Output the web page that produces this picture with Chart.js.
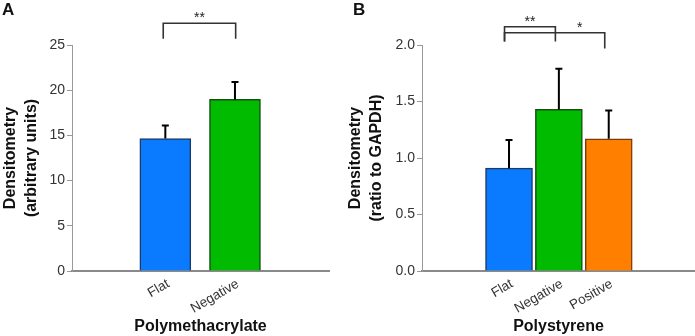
<!DOCTYPE html>
<html>
<head>
<meta charset="utf-8">
<script src="https://cdn.jsdelivr.net/npm/chart.js@4.4.1/dist/chart.umd.min.js"></script>
<style>
  body { margin: 0; background: #fff; }
  #wrap { position: relative; width: 695px; height: 336px; overflow: hidden; }
  canvas { position: absolute; top: 0; }
  .panel { position: absolute; top: 1px; font: bold 17px "Liberation Sans", Arial, sans-serif; color: #111; line-height: 17px; }
</style>
</head>
<body>
<div id="wrap">
  <canvas id="chart-a" width="345" height="336" style="left:0"></canvas>
  <canvas id="chart-b" width="350" height="336" style="left:345px"></canvas>
  <div class="panel" style="left:2px">A</div>
  <div class="panel" style="left:353px">B</div>
</div>
<script>
// Panel A - polymethacrylate
const catsA = ['Flat', 'Negative'];
const meanA = [14.66, 18.98];
const errA = [1.44, 1.92];
const ticksA = [0, 5, 10, 15, 20, 25];

// Panel B - polystyrene
const catsB = ['Flat', 'Negative', 'Positive'];
const meanB = [0.91, 1.43, 1.17];
const errB = [0.25, 0.36, 0.25];
const ticksB = [0, 0.5, 1.0, 1.5, 2.0];

const fills = ['#0a7bff', '#00bb00', '#ff8000'];
const edges = ['#1d3b63', '#145214', '#7a3b0e'];

// significance brackets (x in category units, y in value units)
const sigA = [
    { from: 0.97, to: 2.01, level: 27.4, leftEnd: 25.7, rightEnd: 25.7, label: '**' }
];
const sigB = [
    { from: 0.91, to: 1.93, level: 2.162, leftEnd: 2.03, rightEnd: 2.03, label: '**' },
    { from: 0.91, to: 2.92, level: 2.109, leftEnd: 2.03, rightEnd: 1.97, label: '*', labelAt: 2.42 }
];

const FONT = '"Liberation Sans", Arial, sans-serif';

// draws upward error bars and the significance brackets
const extrasPlugin = {
    id: 'extras',
    afterDatasetsDraw(chart, args, opts) {
        const ctx = chart.ctx;
        const xs = chart.scales.x;
        const ys = chart.scales.y;

        ctx.save();
        ctx.strokeStyle = '#000';
        ctx.lineWidth = 2;
        opts.means.forEach((m, i) => {
            const x = xs.getPixelForValue(i + 1);
            const y0 = ys.getPixelForValue(m);
            const y1 = ys.getPixelForValue(m + opts.errs[i]);
            ctx.beginPath();
            ctx.moveTo(x, y0);
            ctx.lineTo(x, y1);
            ctx.moveTo(x - 3.5, y1);
            ctx.lineTo(x + 3.5, y1);
            ctx.stroke();
        });

        ctx.strokeStyle = '#333';
        ctx.lineWidth = 1.6;
        ctx.fillStyle = '#222';
        ctx.font = '14px ' + FONT;
        ctx.textAlign = 'center';
        ctx.textBaseline = 'alphabetic';
        opts.sig.forEach(s => {
            const xl = xs.getPixelForValue(s.from);
            const xr = xs.getPixelForValue(s.to);
            const yl = ys.getPixelForValue(s.level);
            ctx.beginPath();
            ctx.moveTo(xl, ys.getPixelForValue(s.leftEnd));
            ctx.lineTo(xl, yl);
            ctx.lineTo(xr, yl);
            ctx.lineTo(xr, ys.getPixelForValue(s.rightEnd));
            ctx.stroke();
            const lx = xs.getPixelForValue(s.labelAt !== undefined ? s.labelAt : (s.from + s.to) / 2);
            ctx.fillText(s.label, lx, yl - 1);
        });
        ctx.restore();
    }
};

function makePanel(id, cats, means, errs, yTicks, yMax, yTitle, xTitle, xRange, axisWidth, barWidth, sig, rightPad, decimals) {
    const ctx = document.getElementById(id).getContext('2d');
    return new Chart(ctx, {
        type: 'bar',
        data: {
            datasets: [{
                data: means.map((m, i) => ({ x: i + 1, y: m })),
                backgroundColor: fills.slice(0, cats.length),
                borderColor: edges.slice(0, cats.length),
                borderWidth: 1.5,
                borderSkipped: 'bottom',
                barThickness: barWidth
            }]
        },
        options: {
            responsive: false,
            animation: false,
            devicePixelRatio: 1,
            layout: { padding: { top: 45, right: rightPad, left: 0, bottom: 0 } },
            plugins: {
                legend: { display: false },
                tooltip: { enabled: false },
                extras: { means: means, errs: errs, sig: sig }
            },
            scales: {
                x: {
                    type: 'linear',
                    min: xRange[0],
                    max: xRange[1],
                    offset: false,
                    grid: { display: false, drawTicks: false, offset: false },
                    border: { display: true, color: '#8a8a8a', width: 2 },
                    afterBuildTicks: (scale) => {
                        scale.ticks = cats.map((c, i) => ({ value: i + 1 }));
                    },
                    afterFit: (scale) => { scale.height = 65; },
                    ticks: {
                        autoSkip: false,
                        minRotation: 30,
                        maxRotation: 30,
                        padding: 5,
                        labelOffset: 3,
                        color: '#333',
                        font: { family: FONT, size: 13.5 },
                        callback: (v) => cats[v - 1]
                    },
                    title: {
                        display: true,
                        text: xTitle,
                        color: '#111',
                        padding: { top: 0, bottom: 0 },
                        font: { family: FONT, size: 16, weight: 'bold', lineHeight: 1.2 }
                    }
                },
                y: {
                    min: 0,
                    max: yMax,
                    grid: { drawOnChartArea: false, color: '#999', tickLength: 5 },
                    border: { display: true, color: '#999', width: 1 },
                    afterBuildTicks: (scale) => {
                        scale.ticks = yTicks.map(v => ({ value: v }));
                    },
                    afterFit: (scale) => { scale.width = axisWidth; },
                    ticks: {
                        padding: 2,
                        color: '#333',
                        font: { family: FONT, size: 14 },
                        callback: (v) => v.toFixed(decimals)
                    },
                    title: {
                        display: true,
                        text: yTitle,
                        color: '#111',
                        padding: { top: 0, bottom: 0 },
                        font: { family: FONT, size: 16, weight: 'bold', lineHeight: 1.3 }
                    }
                }
            }
        },
        plugins: [extrasPlugin]
    });
}

makePanel('chart-a', catsA, meanA, errA, ticksA, 25,
    ['Densitometry', '(arbitrary units)'], 'Polymethacrylate',
    [-0.34, 3.35], 72, 51, sigA, 16, 0);

makePanel('chart-b', catsB, meanB, errB, ticksB, 2.0,
    ['Densitometry', '(ratio to GAPDH)'], 'Polystyrene',
    [-0.745, 4.73], 77, 47, sigB, 0, 1);
</script>
</body>
</html>
